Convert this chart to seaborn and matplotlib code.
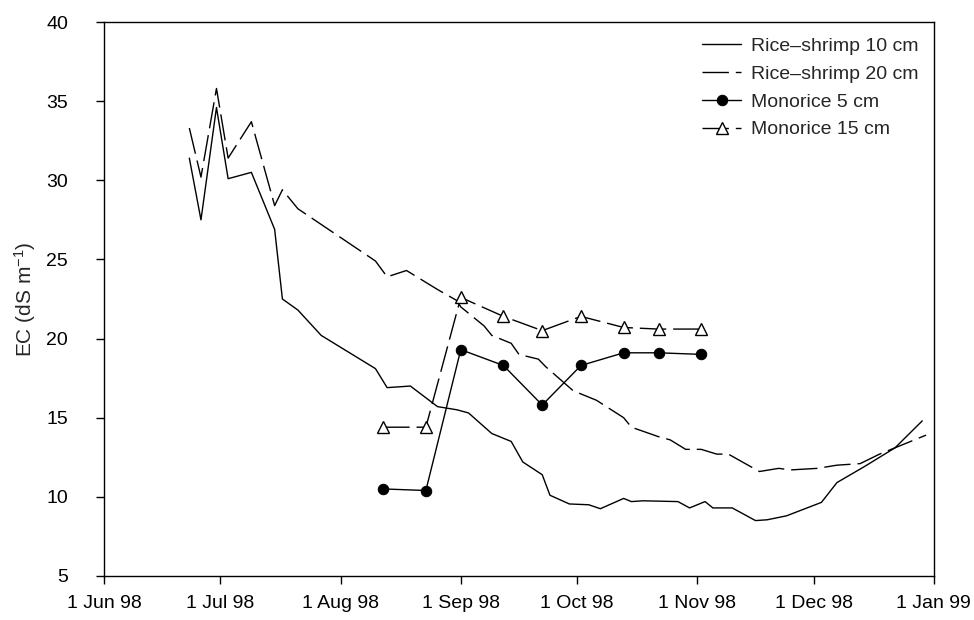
"""EC time series for rice-shrimp and monorice plots, Jun 98 - Jan 99."""

import numpy as np
import pandas as pd
import matplotlib
matplotlib.use("Agg")
import matplotlib.pyplot as plt
import matplotlib.dates as mdates
import seaborn as sns

# Rice-shrimp 10 cm (solid line)
rs10_dates = [
    "1998-06-23", "1998-06-26", "1998-06-30", "1998-07-03", "1998-07-09",
    "1998-07-15", "1998-07-17", "1998-07-21", "1998-07-27", "1998-08-10",
    "1998-08-13", "1998-08-19", "1998-08-26", "1998-08-31", "1998-09-03",
    "1998-09-09", "1998-09-14", "1998-09-17", "1998-09-22", "1998-09-24",
    "1998-09-29", "1998-10-04", "1998-10-07", "1998-10-13", "1998-10-15",
    "1998-10-18", "1998-10-27", "1998-10-30", "1998-11-03", "1998-11-05",
    "1998-11-10", "1998-11-16", "1998-11-19", "1998-11-24", "1998-12-03",
    "1998-12-07", "1998-12-14", "1998-12-22", "1998-12-29",
]
rs10_ec = [
    31.4, 27.5, 34.6, 30.1, 30.5,
    26.9, 22.5, 21.8, 20.2, 18.1,
    16.9, 17.0, 15.7, 15.5, 15.3,
    14.0, 13.5, 12.2, 11.4, 10.1,
    9.55, 9.5, 9.25, 9.9, 9.7,
    9.75, 9.7, 9.3, 9.7, 9.3,
    9.3, 8.5, 8.55, 8.8, 9.65,
    10.9, 11.9, 13.1, 14.8,
]

# Rice-shrimp 20 cm (dashed line)
rs20_dates = [
    "1998-06-23", "1998-06-26", "1998-06-30", "1998-07-03", "1998-07-09",
    "1998-07-15", "1998-07-17", "1998-07-21", "1998-08-10", "1998-08-13",
    "1998-08-18", "1998-08-26", "1998-08-31", "1998-09-01", "1998-09-07",
    "1998-09-09", "1998-09-14", "1998-09-16", "1998-09-21", "1998-09-23",
    "1998-09-30", "1998-10-06", "1998-10-13", "1998-10-15", "1998-10-22",
    "1998-10-25", "1998-10-29", "1998-11-02", "1998-11-06", "1998-11-09",
    "1998-11-17", "1998-11-22", "1998-11-25", "1998-12-02", "1998-12-07",
    "1998-12-13", "1998-12-18", "1998-12-23", "1998-12-27", "1998-12-30",
]
rs20_ec = [
    33.3, 30.2, 35.8, 31.4, 33.7,
    28.4, 29.4, 28.2, 24.9, 23.9,
    24.3, 23.1, 22.4, 22.0, 20.8,
    20.2, 19.7, 19.0, 18.7, 18.2,
    16.7, 16.1, 15.0, 14.4, 13.8,
    13.6, 13.0, 13.0, 12.7, 12.7,
    11.6, 11.8, 11.7, 11.8, 12.0,
    12.1, 12.7, 13.2, 13.6, 13.9,
]

# Monorice plots, sampled on the same days
mono_dates = [
    "1998-08-12", "1998-08-23", "1998-09-01", "1998-09-12", "1998-09-22",
    "1998-10-02", "1998-10-13", "1998-10-22", "1998-11-02",
]
mono5_ec = [10.5, 10.4, 19.3, 18.3, 15.8, 18.3, 19.1, 19.1, 19.0]
mono15_ec = [14.4, 14.4, 22.6, 21.4, 20.5, 21.4, 20.7, 20.6, 20.6]

DASH = (0, (19, 5))
FS = 14

sns.set_style("ticks")
plt.rcParams["font.family"] = ["Liberation Sans", "DejaVu Sans"]
plt.rcParams["mathtext.default"] = "regular"

fig = plt.figure(figsize=(9.74, 6.2), dpi=100)
ax = fig.add_axes([0.1068, 0.071, 0.852, 0.8935])

series = [
    (rs10_dates, rs10_ec, "Rice\u2013shrimp 10 cm", dict(linestyle="-")),
    (rs20_dates, rs20_ec, "Rice\u2013shrimp 20 cm", dict(linestyle=DASH)),
    (mono_dates, mono5_ec, "Monorice 5 cm",
     dict(linestyle="-", marker="o", markersize=7.5, markerfacecolor="black",
          markeredgecolor="black")),
    (mono_dates, mono15_ec, "Monorice 15 cm",
     dict(linestyle=DASH, marker="^", markersize=8.5, markerfacecolor="white",
          markeredgecolor="black", markeredgewidth=1.0)),
]

for dates, vals, label, style in series:
    df = pd.DataFrame({"date": pd.to_datetime(dates), "ec": vals})
    sns.lineplot(data=df, x="date", y="ec", ax=ax, color="black", linewidth=1.0,
                 estimator=None, sort=False, label=label, **style)

ax.set_xlim(pd.Timestamp("1998-06-01"), pd.Timestamp("1999-01-01"))
ax.set_ylim(5, 40)
ax.set_yticks(np.arange(5, 41, 5))
ax.xaxis.set_major_locator(mdates.MonthLocator())
ax.xaxis.set_major_formatter(mdates.DateFormatter("%-d %b %y"))

ax.set_xlabel("")
ax.set_ylabel("EC (dS m$^{-1}$)", fontsize=15, labelpad=6)
ax.tick_params(axis="both", direction="out", length=6, width=1, colors="black",
               labelsize=FS)
ax.tick_params(axis="y", pad=20)
ax.tick_params(axis="x", pad=8)
for side in ["top", "right", "bottom", "left"]:
    ax.spines[side].set_visible(True)
    ax.spines[side].set_color("black")
    ax.spines[side].set_linewidth(1.0)

leg = ax.legend(loc="upper right", frameon=False, fontsize=FS, handlelength=2.0,
                handletextpad=0.5, labelspacing=0.52, borderaxespad=0.6,
                borderpad=0.2, numpoints=1)

fig.savefig("out.png", dpi=100)
plt.close(fig)
